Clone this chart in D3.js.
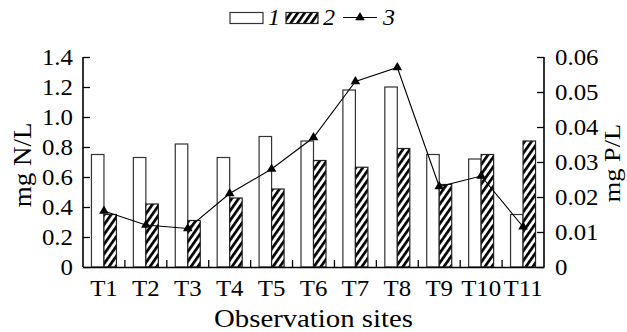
<!DOCTYPE html>
<html>
<head>
<meta charset="utf-8">
<script src="https://cdn.jsdelivr.net/npm/d3@7"></script>
<style>
  html, body { margin: 0; padding: 0; background: #fff; }
</style>
</head>
<body>
<div id="chart"></div>
<script>
// ── Data ──
const sites = ['T1', 'T2', 'T3', 'T4', 'T5', 'T6', 'T7', 'T8', 'T9', 'T10', 'T11'];
const series1 = [0.75, 0.73, 0.82, 0.73, 0.87, 0.84, 1.18, 1.20, 0.75, 0.72, 0.35];   // mg N/L, open bars
const series2 = [0.35, 0.42, 0.31, 0.46, 0.52, 0.71, 0.665, 0.79, 0.55, 0.75, 0.84];  // mg N/L, hatched bars
const series3 = [0.016, 0.012, 0.011, 0.021, 0.028, 0.037, 0.053, 0.057, 0.023, 0.026, 0.0115]; // mg P/L, line
const leftTicks = [0, 0.2, 0.4, 0.6, 0.8, 1.0, 1.2, 1.4];
const rightTicks = [0, 0.01, 0.02, 0.03, 0.04, 0.05, 0.06];

const W = 627, H = 332;
const margin = { left: 83, right: 83, top: 57, bottom: 65 };
const x0 = margin.left, x1 = W - margin.right;
const yTop = margin.top, yBot = H - margin.bottom;
const SERIF = '"Liberation Serif", "Times New Roman", serif';

const svg = d3.select('#chart').append('svg').attr('width', W).attr('height', H)
  .attr('font-family', SERIF);
const defs = svg.append('defs');

// widen glyphs a little, the source figure is set in a broad Times
function stretch(sel, k) {
  sel.each(function() {
    const len = this.getComputedTextLength();
    d3.select(this).attr('textLength', len * k).attr('lengthAdjust', 'spacingAndGlyphs');
  });
}

// ── Diagonal hatch ──
const hatch = defs.append('pattern').attr('id', 'hatch')
  .attr('patternUnits', 'userSpaceOnUse').attr('width', 5.6).attr('height', 6)
  .attr('patternTransform', 'rotate(35)');
hatch.append('rect').attr('width', 5.6).attr('height', 6).attr('fill', '#fff');
hatch.append('line').attr('x1', 0).attr('y1', 0).attr('x2', 0).attr('y2', 6)
  .attr('stroke', '#000').attr('stroke-width', 5.4);

const x = d3.scaleBand().domain(sites).range([x0, x1]).padding(0);
const yL = d3.scaleLinear().domain([0, 1.4]).range([yBot, yTop]);
const yR = d3.scaleLinear().domain([0, 0.06]).range([yBot, yTop]);
const barW = 12.5;

// ── Bars ──
svg.append('g').selectAll('rect').data(sites).join('rect')
  .attr('x', (d) => x(d) + x.bandwidth() / 2 - barW)
  .attr('y', (d, i) => yL(series1[i]))
  .attr('width', barW)
  .attr('height', (d, i) => yBot - yL(series1[i]))
  .attr('fill', '#fff').attr('stroke', '#333').attr('stroke-width', 1.2);

svg.append('g').selectAll('rect').data(sites).join('rect')
  .attr('x', (d) => x(d) + x.bandwidth() / 2)
  .attr('y', (d, i) => yL(series2[i]))
  .attr('width', barW)
  .attr('height', (d, i) => yBot - yL(series2[i]))
  .attr('fill', 'url(#hatch)').attr('stroke', '#222').attr('stroke-width', 1.2);

// ── Axes ──
const axL = svg.append('g').attr('transform', `translate(${x0},0)`)
  .call(d3.axisLeft(yL).tickValues(leftTicks).tickSize(-7).tickPadding(10)
    .tickFormat(d => d === 0 ? '0' : d3.format('.1f')(d)));
const axR = svg.append('g').attr('transform', `translate(${x1},0)`)
  .call(d3.axisRight(yR).tickValues(rightTicks).tickSize(-7).tickPadding(11)
    .tickFormat(d => d === 0 ? '0' : d3.format('.2f')(d)));
const axB = svg.append('g').attr('transform', `translate(0,${yBot})`)
  .call(d3.axisBottom(x).tickSize(0).tickPadding(13));

[axL, axR, axB].forEach(a => {
  a.attr('font-family', SERIF).attr('font-size', 23);
  a.select('.domain').attr('stroke', '#000').attr('stroke-width', 1.6);
  a.selectAll('.tick line').attr('stroke', '#000').attr('stroke-width', 1.3);
  a.selectAll('text').attr('fill', '#000');
  stretch(a.selectAll('text'), 1.08);
});
axL.select('.domain').attr('d', `M0,${yTop}V${yBot}`);
axR.select('.domain').attr('d', `M0,${yTop}V${yBot}`);

// category boundary ticks (pointing up)
svg.append('g').selectAll('line').data(sites.slice(1)).join('line')
  .attr('x1', d => x(d)).attr('x2', d => x(d))
  .attr('y1', yBot).attr('y2', yBot - 7)
  .attr('stroke', '#000').attr('stroke-width', 1.3);

// ── Line series (right axis) ──
const line = d3.line().x((d, i) => x(sites[i]) + x.bandwidth() / 2).y(d => yR(d));
svg.append('path').datum(series3).attr('d', line)
  .attr('fill', 'none').attr('stroke', '#000').attr('stroke-width', 1.1);
const tri = d3.symbol().type(d3.symbolTriangle).size(40);
svg.append('g').selectAll('path').data(series3).join('path')
  .attr('transform', (d, i) => `translate(${x(sites[i]) + x.bandwidth() / 2},${yR(d)})`)
  .attr('d', tri).attr('fill', '#000');

// ── Axis titles ──
const tL = svg.append('text').attr('transform', `translate(22,${(yTop + yBot) / 2 + 3})rotate(-90)`)
  .attr('text-anchor', 'middle').attr('dominant-baseline', 'central')
  .attr('font-size', 25).text('mg N/L');
const tR = svg.append('text').attr('transform', `translate(612,${(yTop + yBot) / 2 + 1})rotate(-90)`)
  .attr('text-anchor', 'middle').attr('dominant-baseline', 'central')
  .attr('font-size', 24).text('mg P/L');
const tB = svg.append('text').attr('x', (x0 + x1) / 2).attr('y', 327)
  .attr('text-anchor', 'middle').attr('font-size', 25).text('Observation sites');
stretch(tL, 1.08);
stretch(tR, 1.1);
stretch(tB, 1.15);

// ── Legend ──
const lg = svg.append('g').attr('transform', 'translate(230,0)');
lg.append('rect').attr('x', 0).attr('y', 12.5).attr('width', 33).attr('height', 11)
  .attr('fill', '#fff').attr('stroke', '#333').attr('stroke-width', 1.2);
lg.append('text').attr('x', 38).attr('y', 25).attr('font-size', 24)
  .attr('font-style', 'italic').text('1');
lg.append('rect').attr('x', 56).attr('y', 12.5).attr('width', 32).attr('height', 11)
  .attr('fill', 'url(#hatch)').attr('stroke', '#222').attr('stroke-width', 1.2);
lg.append('text').attr('x', 93).attr('y', 25).attr('font-size', 24)
  .attr('font-style', 'italic').text('2');
lg.append('line').attr('x1', 113).attr('x2', 147).attr('y1', 17.5).attr('y2', 17.5)
  .attr('stroke', '#000').attr('stroke-width', 1.1);
lg.append('path').attr('transform', 'translate(130,17.5)').attr('d', tri).attr('fill', '#000');
lg.append('text').attr('x', 153).attr('y', 25).attr('font-size', 24)
  .attr('font-style', 'italic').text('3');
</script>
</body>
</html>
